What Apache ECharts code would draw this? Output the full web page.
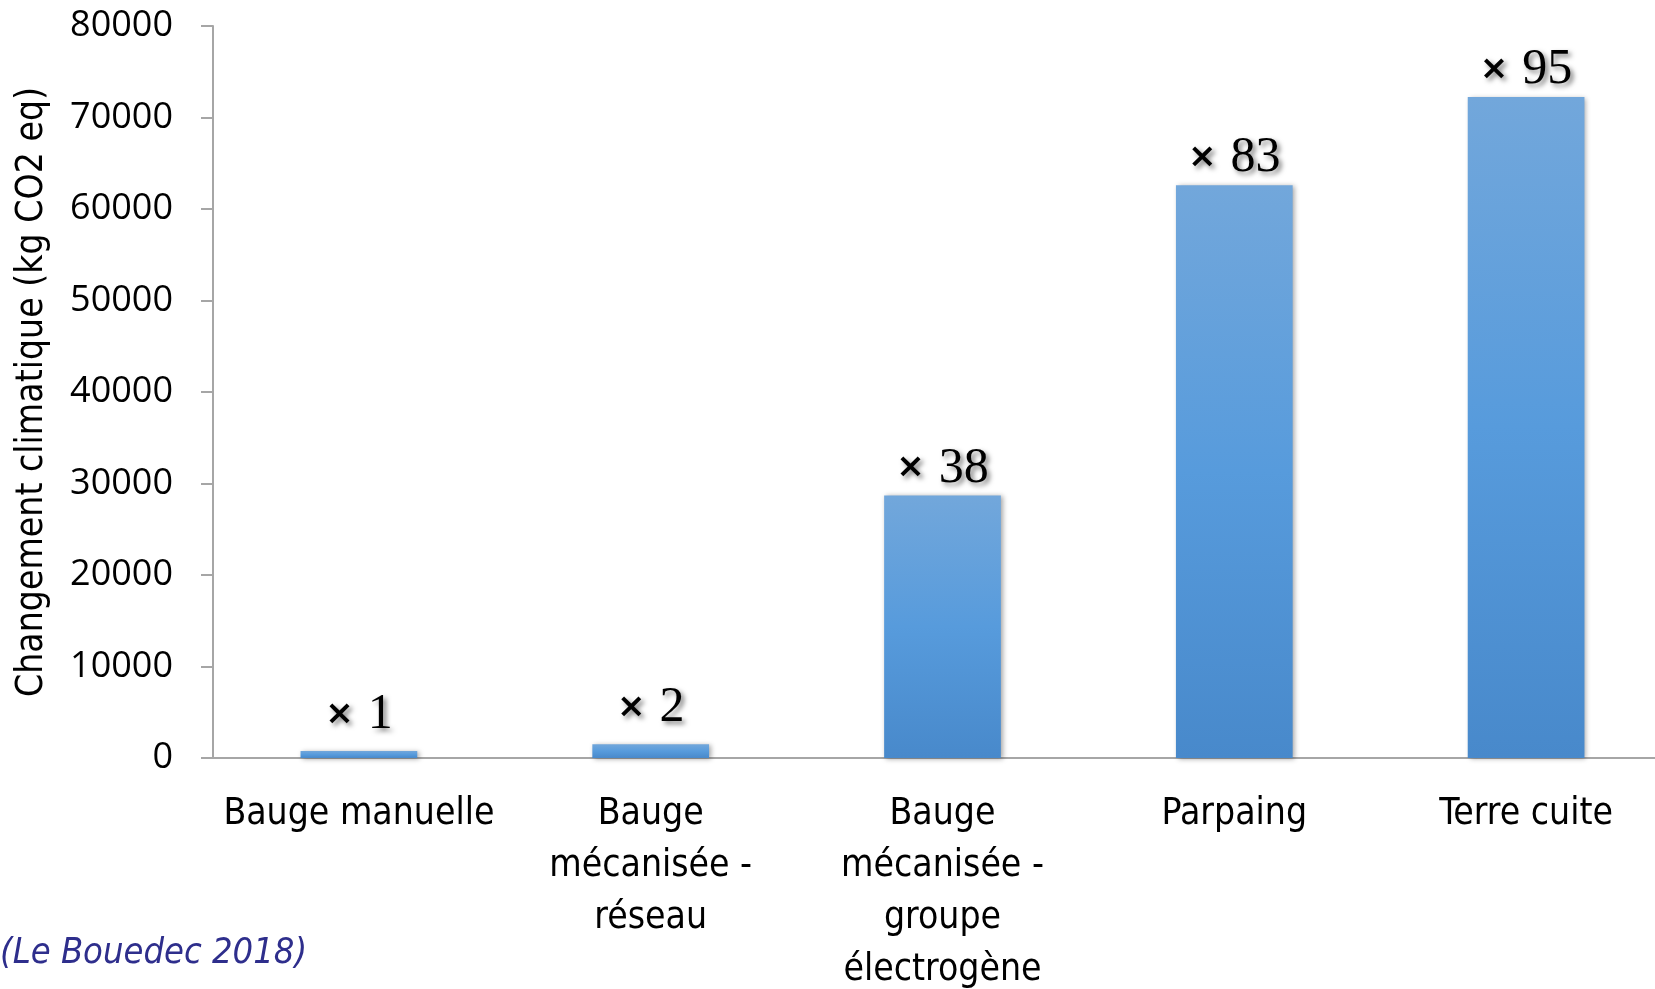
<!DOCTYPE html>
<html>
<head>
<meta charset="utf-8">
<title>Changement climatique</title>
<script src="https://cdn.jsdelivr.net/npm/echarts@6/dist/echarts.min.js"></script>
<style>
  html, body { margin: 0; padding: 0; background: #fff; }
  #chart { width: 1655px; height: 989px; }
</style>
</head>
<body>
<div id="chart"></div>
<script>
const categories = ['Bauge manuelle', 'Bauge\nmécanisée -\nréseau', 'Bauge\nmécanisée -\ngroupe\nélectrogène', 'Parpaing', 'Terre cuite']
const values = [765, 1500, 28700, 62600, 72250]
const ratioLabels = ['× 1', '× 2', '× 38', '× 83', '× 95']
const yTicks = [0, 10000, 20000, 30000, 40000, 50000, 60000, 70000, 80000]

const calibriLike = '"Liberation Sans Narrow", "DejaVu Sans Condensed", sans-serif'
const axisGrey = '#a6a6a6'
const labelShadow = {
  textShadowColor: 'rgba(0, 0, 0, 0.5)',
  textShadowBlur: 5,
  textShadowOffsetX: 3,
  textShadowOffsetY: 3
}

const chart = echarts.init(document.getElementById('chart'))

// the two tiny bars have their labels lifted a bit higher in the original
const barData = values.map((v) => (v < 5000 ? { value: v, label: { distance: 11 } } : v))

const option = {
  animation: false,
  backgroundColor: '#fff',
  grid: {
    left: 213,
    top: 26,
    bottom: 231,
    width: 1459,
    containLabel: false,
    outerBoundsMode: 'none'
  },
  xAxis: {
    type: 'category',
    data: categories,
    axisLine: { lineStyle: { color: axisGrey, width: 2 } },
    axisTick: { length: 12, lineStyle: { color: axisGrey, width: 2 } },
    axisLabel: {
      margin: 30,
      color: '#000',
      fontFamily: calibriLike,
      fontSize: 37,
      lineHeight: 52,
      interval: 0
    }
  },
  yAxis: {
    type: 'value',
    min: yTicks[0],
    max: yTicks[yTicks.length - 1],
    interval: 10000,
    name: 'Changement climatique (kg CO2 eq)',
    nameLocation: 'middle',
    nameGap: 162,
    nameTextStyle: {
      color: '#000',
      fontFamily: calibriLike,
      fontSize: 37
    },
    axisLine: { show: true, lineStyle: { color: axisGrey, width: 2 } },
    axisTick: { show: true, length: 12, lineStyle: { color: axisGrey, width: 2 } },
    splitLine: { show: false },
    axisLabel: {
      margin: 40,
      color: '#000',
      fontFamily: '"Open Sans", sans-serif',
      fontSize: 36,
      formatter: (v) => String(v)
    }
  },
  graphic: [
    {
      type: 'text',
      left: 0,
      top: 936,
      style: {
        text: '(Le Bouedec 2018)',
        fill: '#2e2e8c',
        font: 'italic 36px "Liberation Sans Narrow", "DejaVu Sans Condensed", sans-serif'
      }
    }
  ],
  series: [
    {
      type: 'bar',
      data: barData,
      barWidth: '40%',
      itemStyle: {
        color: new echarts.graphic.LinearGradient(0, 0, 0, 1, [
          { offset: 0, color: '#72a7db' },
          { offset: 0.5, color: '#579bdc' },
          { offset: 1, color: '#4889cb' }
        ]),
        shadowColor: 'rgba(0, 0, 0, 0.35)',
        shadowBlur: 5,
        shadowOffsetX: 2,
        shadowOffsetY: 1
      },
      label: {
        show: true,
        position: 'top',
        distance: 2,
        formatter: (p) => {
          const parts = ratioLabels[p.dataIndex].split(' ')
          return '{x|' + parts[0] + '}{n|' + parts[1] + '}'
        },
        ...labelShadow,
        rich: {
          x: {
            color: '#000',
            fontFamily: '"DejaVu Sans", sans-serif',
            fontWeight: 'bold',
            fontSize: 34,
            padding: [0, 14, 0, 0],
            ...labelShadow
          },
          n: {
            color: '#000',
            fontFamily: '"Liberation Serif", "DejaVu Serif", serif',
            fontSize: 50,
            ...labelShadow
          }
        }
      }
    }
  ]
}

chart.setOption(option)
</script>
</body>
</html>
